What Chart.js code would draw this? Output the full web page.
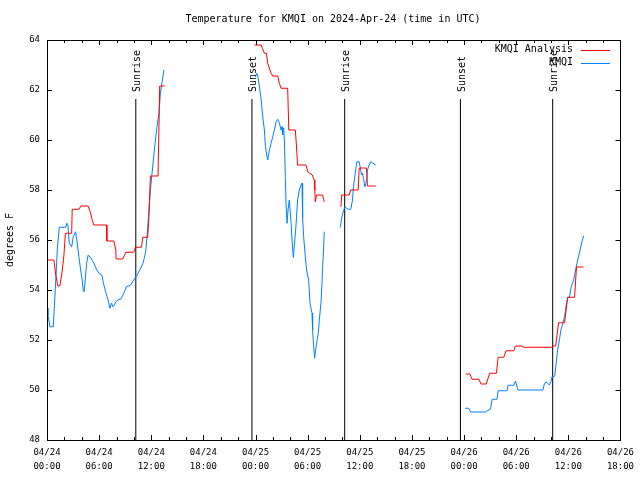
<!DOCTYPE html>
<html>
<head>
<meta charset="utf-8">
<script src="https://cdn.jsdelivr.net/npm/chart.js@4/dist/chart.umd.min.js"></script>
<style>
  body { margin: 0; background: #fff; }
  canvas { display: block; }
</style>
</head>
<body>
<canvas id="tempChart" width="640" height="480"></canvas>
<script>
// hours since 04/24 00:00 UTC, null = gap in the record
const analysisHours = [
  0, 0.80, 0.98, 1.23, 1.49, 1.72, 1.95, 2.12, 2.84, 2.90, 3.67, 3.90, 4.74, 5.02, 5.20, 5.39,
  6.85, 6.89, 7.69, 7.92, 7.95, 8.72, 9.07, 9.99, 10.18, 10.87, 11.02, 11.59, 11.74, 11.90, 12.78, 12.97, 13.54,
  null,
  23.88, 24.64, 24.79, 25.02, 25.25, 25.40, 25.79, 25.97, 26.55, 26.74, 26.94, 27.70, 27.83, 28.58, 28.69,
  28.84, 29.81, 30.02, 30.53, 30.76, 30.82, 30.88, 31.03, 31.72, 31.91,
  null,
  33.83, 33.92, 34.78, 34.95, 35.81, 35.93, 36.77, 36.88, 37.84,
  null,
  48.17, 48.67, 48.93, 49.70, 49.96, 50.54, 50.96, 51.73, 51.92, 52.57, 52.84, 53.72, 53.91, 54.67, 54.79,
  58.12, 58.31, 58.54, 58.88, 59.57, 59.92, 60.72, 60.94, 61.75
];
const analysisTemps = [
  55.2, 55.2, 54.68, 54.17, 54.17, 54.68, 55.4, 56.27, 56.27, 57.23, 57.23, 57.36, 57.36, 57.08, 56.8, 56.6,
  56.6, 55.96, 55.96, 55.6, 55.24, 55.24, 55.51, 55.51, 55.71, 55.71, 56.11, 56.11, 57.0, 58.56, 58.56, 62.16, 62.16,
  null,
  63.8, 63.8, 63.67, 63.47, 63.47, 63.07, 62.67, 62.56, 62.56, 62.27, 62.07, 62.07, 60.4, 60.4, 59.88,
  59.0, 59.0, 58.72, 58.6, 58.4, 58.0, 57.53, 57.8, 57.8, 57.53,
  null,
  57.33, 57.8, 57.8, 58.0, 58.0, 58.88, 58.88, 58.16, 58.16,
  null,
  50.64, 50.64, 50.43, 50.43, 50.24, 50.24, 50.67, 50.67, 51.31, 51.31, 51.57, 51.57, 51.76, 51.76, 51.71,
  51.71, 51.76, 51.76, 52.69, 52.69, 53.71, 53.71, 54.92, 54.92
];

const obsHours = [
  0, 0.11, 0.34, 0.72, 0.92, 1.11, 1.18, 1.41, 2.15, 2.30, 2.41, 2.56, 2.84, 3.02, 3.29, 3.48, 3.67, 3.87,
  4.05, 4.17, 4.28, 4.42, 4.56, 4.74, 5.05, 5.39, 5.74, 5.97, 6.31, 6.46, 6.74, 6.92, 7.04, 7.23, 7.43,
  7.58, 7.75, 7.92, 8.15, 8.49, 8.84, 9.15, 9.61, 9.99, 10.37, 10.73, 11.05, 11.36, 11.51, 11.71, 11.90,
  12.09, 12.28, 12.48, 12.66, 12.89, 13.05, 13.28, 13.46,
  null,
  23.99, 24.14, 24.26, 24.45, 24.65, 24.83, 25.02, 25.14, 25.29, 25.40, 25.60, 25.79, 25.98, 26.17, 26.37,
  26.55, 26.74, 26.94, 27.05, 27.12, 27.24, 27.32, 27.43, 27.51, 27.63, 27.74, 27.89, 28.09, 28.20, 28.35,
  28.55, 28.66, 28.84, 29.04, 29.24, 29.35, 29.42, 29.54, 29.73, 29.88, 30.11, 30.27, 30.50, 30.57, 30.69,
  30.80, 30.88, 31.03, 31.22, 31.34, 31.53, 31.65, 31.72, 31.83, 31.91,
  null,
  33.75, 33.90, 34.09, 34.29, 34.47, 34.67, 34.97, 35.16, 35.27, 35.47, 35.66, 35.93, 36.04, 36.19, 36.31,
  36.42, 36.58, 36.70, 36.81, 36.88, 37.08, 37.27, 37.45, 37.65, 37.84,
  null,
  48.13, 48.55, 48.75, 50.47, 50.66, 51.04, 51.23, 51.80, 51.92, 52.95, 53.06, 53.72, 53.91, 54.06, 54.21,
  57.08, 57.24, 57.43, 57.62, 57.82, 58.00, 58.12, 58.43, 58.58, 58.77, 59.00, 59.15, 59.38, 59.57, 59.72,
  59.95, 60.11, 60.34, 60.61, 60.95, 61.30, 61.53, 61.76
];
const obsTemps = [
  53.28, 53.0, 52.53, 52.53, 53.8, 55.08, 55.6, 56.51, 56.51, 56.67, 56.6, 55.87, 55.73, 56.13, 56.33, 55.87, 55.33, 54.8,
  54.4, 54.0, 53.93, 54.48, 55.07, 55.4, 55.28, 55.07, 54.8, 54.67, 54.6, 54.33, 53.93, 53.73, 53.6, 53.27, 53.48,
  53.33, 53.4, 53.52, 53.6, 53.63, 53.87, 54.13, 54.2, 54.4, 54.6, 54.84, 55.07, 55.53, 56.13, 57.07, 58.0,
  58.67, 59.33, 60.0, 60.53, 61.07, 61.87, 62.4, 62.8,
  null,
  62.52, 62.67, 62.56, 62.13, 61.6, 60.93, 60.4, 59.73, 59.4, 59.2, 59.6, 59.87, 60.13, 60.4, 60.73,
  60.83, 60.69, 60.4, 60.53, 60.2, 60.48, 60.0, 58.53, 57.47, 56.67, 57.2, 57.6, 56.67, 56.0, 55.3,
  56.13, 56.6, 57.6, 58.0, 58.2, 58.27, 56.87, 56.13, 55.33, 54.8, 54.4, 53.47, 53.07, 52.4, 51.73,
  51.27, 51.52, 51.87, 52.27, 52.8, 53.47, 54.27, 54.93, 55.6, 56.33,
  null,
  56.51, 56.87, 57.12, 57.33, 57.27, 57.23, 57.23, 57.6, 58.13, 58.67, 59.13, 59.13, 58.93, 58.6, 58.67,
  58.47, 58.13, 58.27, 58.47, 58.8, 59.0, 59.13, 59.09, 59.04, 59.0,
  null,
  49.27, 49.27, 49.12, 49.12, 49.17, 49.23, 49.63, 49.63, 49.97, 49.97, 50.19, 50.19, 50.36, 50.18, 50.0,
  50.0, 50.24, 50.33, 50.27, 50.2, 50.33, 50.53, 50.55, 51.0, 51.6, 52.07, 52.4, 52.69, 52.93, 53.33,
  53.71, 53.68, 54.13, 54.4, 55.0, 55.52, 55.88, 56.16
];

const sunHours = [10.22, 23.59, 34.26, 47.58, 58.2];
const sunLabels = ["Sunrise", "Sunset", "Sunrise", "Sunset", "Sunrise"];
const sunLineTop = 61.64;

const xTickHours = [0, 6, 12, 18, 24, 30, 36, 42, 48, 54, 60, 66];
const yTicks = [48, 50, 52, 54, 56, 58, 60, 62, 64];

const titleText = "Temperature for KMQI on 2024-Apr-24 (time in UTC)";
const yTitle = "degrees F";
const mono = "'DejaVu Sans Mono', 'Liberation Mono', monospace";

function toPoints(hours, temps) {
  let pts = [], lastX = 0;
  for (let i = 0; i < hours.length; i++) {
    if (hours[i] === null) { pts.push({x: lastX, y: null}); continue; }
    lastX = hours[i];
    pts.push({x: hours[i], y: temps[i]});
  }
  return pts;
}

function tickLabel(h) {
  const day = 24 + Math.floor(h / 24);
  const hr = h % 24;
  return ["04/" + day, (hr < 10 ? "0" : "") + hr + ":00"];
}

let datasets = [
  {label: "KMQI Analysis", data: toPoints(analysisHours, analysisTemps), borderColor: "#ff0000", borderWidth: 1},
  {label: "KMQI", data: toPoints(obsHours, obsTemps), borderColor: "#0080ff", borderWidth: 1}
];
sunHours.forEach(h => {
  datasets.push({label: "", data: [{x: h, y: 48}, {x: h, y: sunLineTop}], borderColor: "#000", borderWidth: 1});
});

// gnuplot-ish frame, inward ticks, title, legend and sun labels
const gnuFrame = {
  id: "gnuFrame",
  afterDraw(chart) {
    const c = chart.ctx, a = chart.chartArea;
    const xs = chart.scales.x, ys = chart.scales.y;
    c.save();
    c.strokeStyle = "#000";
    c.lineWidth = 1;
    c.strokeRect(Math.round(a.left) + 0.5, Math.round(a.top) + 0.5, Math.round(a.right - a.left), Math.round(a.bottom - a.top));
    c.beginPath();
    for (let h = 0; h <= 66; h += 2) {
      const px = Math.round(xs.getPixelForValue(h)) + 0.5;
      const len = h % 6 === 0 ? 5 : 3;
      c.moveTo(px, a.bottom); c.lineTo(px, a.bottom - len);
      c.moveTo(px, a.top); c.lineTo(px, a.top + len);
    }
    yTicks.forEach(v => {
      const py = Math.round(ys.getPixelForValue(v)) + 0.5;
      c.moveTo(a.left, py); c.lineTo(a.left + 5, py);
      c.moveTo(a.right, py); c.lineTo(a.right - 5, py);
    });
    c.stroke();

    c.fillStyle = "#000";
    c.font = "10px " + mono;
    c.textAlign = "center";
    c.textBaseline = "middle";
    c.fillText(titleText, 333, 19);

    c.save();
    c.translate(10, 240);
    c.rotate(-Math.PI / 2);
    c.fillText(yTitle, 0, 0);
    c.restore();

    sunHours.forEach((h, i) => {
      const px = xs.getPixelForValue(h);
      c.save();
      c.translate(px + 1.5, 92);
      c.rotate(-Math.PI / 2);
      c.textAlign = "left";
      c.fillText(sunLabels[i], 0, 0);
      c.restore();
    });

    // legend
    c.textAlign = "right";
    [0, 1].forEach(i => {
      const ds = chart.data.datasets[i];
      const y = 49.5 + i * 13;
      c.fillStyle = "#000";
      c.fillText(ds.label, 573, y);
      c.strokeStyle = ds.borderColor;
      c.beginPath();
      c.moveTo(581, Math.round(y) + 0.5);
      c.lineTo(610, Math.round(y) + 0.5);
      c.stroke();
    });
    c.restore();
  }
};

new Chart(document.getElementById("tempChart"), {
  type: "line",
  data: {datasets: datasets},
  options: {
    responsive: false,
    animation: false,
    devicePixelRatio: 1,
    spanGaps: false,
    elements: {point: {radius: 0}, line: {tension: 0}},
    layout: {padding: {top: 40, right: 18, left: 0, bottom: 0}},
    plugins: {legend: {display: false}, tooltip: {enabled: false}, title: {display: false}},
    scales: {
      x: {
        type: "linear", min: 0, max: 66,
        grid: {display: false, drawTicks: false},
        border: {display: false},
        afterBuildTicks: s => { s.ticks = xTickHours.map(v => ({value: v})); },
        afterFit: s => { s.height = 40; },
        ticks: {
          autoSkip: false, maxRotation: 0, padding: 6, color: "#000",
          font: {family: mono, size: 9, lineHeight: 1.55},
          callback: v => tickLabel(v)
        }
      },
      y: {
        min: 48, max: 64,
        grid: {display: false, drawTicks: false},
        border: {display: false},
        afterBuildTicks: s => { s.ticks = yTicks.map(v => ({value: v})); },
        afterFit: s => { s.width = 47; },
        ticks: {padding: 7, color: "#000", font: {family: mono, size: 9}}
      }
    }
  },
  plugins: [gnuFrame]
});
</script>
</body>
</html>
